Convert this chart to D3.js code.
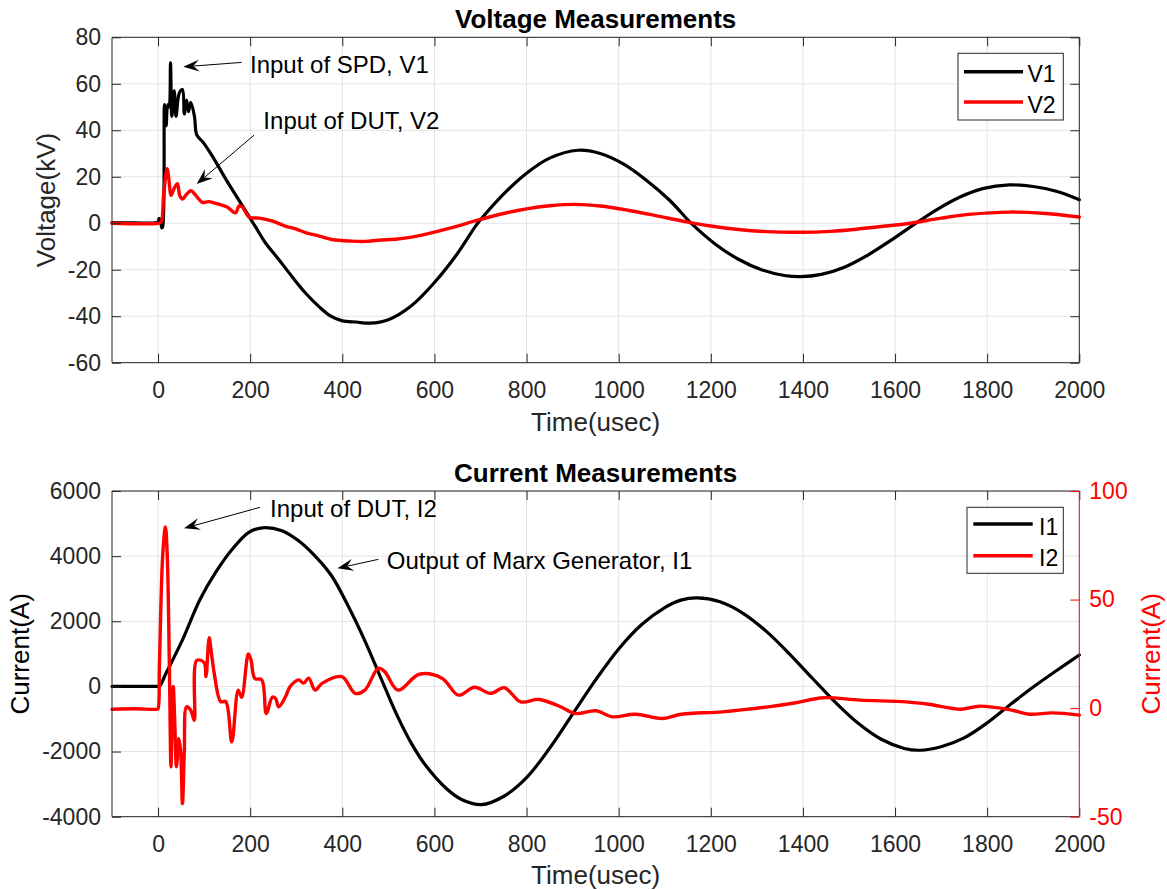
<!DOCTYPE html>
<html>
<head>
<meta charset="utf-8">
<script src="https://cdn.jsdelivr.net/npm/d3@7"></script>
<style>
  html, body { margin: 0; padding: 0; background: #fff; }
  svg { display: block; font-family: "Liberation Sans", Arial, Helvetica, sans-serif; }
</style>
</head>
<body>
<svg id="chart" width="1167" height="890"></svg>
<script>
// ---------------- DATA ----------------
const timeTicks = [0, 200, 400, 600, 800, 1000, 1200, 1400, 1600, 1800, 2000];
const voltageTicks = [-60, -40, -20, 0, 20, 40, 60, 80];
const currentTicks = [-4000, -2000, 0, 2000, 4000, 6000];
const currentRightTicks = [-50, 0, 50, 100];

const v1Time = [-100, -50, 0, 2, 5, 8, 10, 14, 17.5, 21, 24, 27, 30, 35, 39, 46, 53, 57, 62, 66, 71, 79, 84, 97, 111, 125, 147, 169, 190, 212, 233, 262, 291, 320, 350, 375, 400, 430, 460, 500, 550, 600, 650, 690, 700, 750, 800, 850, 912, 960, 1010, 1060, 1110, 1160, 1210, 1260, 1310, 1360, 1395, 1440, 1490, 1540, 1590, 1640, 1690, 1740, 1790, 1848, 1900, 1950, 2000];
const v1Values = [0.3, 0.2, 0.5, 2, 1.5, -2, -1.5, 51, 42, 51, 50, 69, 46, 57, 46, 56, 57.5, 47, 53, 48, 52, 46, 38, 35, 31, 26.5, 19, 12, 5.3, -1.7, -8.4, -15.6, -23, -30, -36, -40, -42, -42.5, -43, -41.5, -35.5, -25.5, -13, -1, 1.5, 12.5, 21.5, 28, 31.4, 30, 25.5, 18.5, 10, -0.5, -9, -15.5, -20, -22.5, -23, -22, -18.9, -13.8, -7.5, -0.7, 5.8, 11.2, 14.9, 16.5, 15.8, 13.8, 10.1];

const v2Time = [-100, 0, 6.6, 12, 19.6, 24, 28, 35, 42, 47, 53, 62, 71.5, 80, 96, 110, 130, 150, 168, 176, 183, 198, 220, 247, 276, 300, 320, 350, 377, 420, 450, 478, 520, 550, 600, 650, 688, 750, 800, 850, 905, 960, 1020, 1080, 1150, 1200, 1260, 1320, 1394, 1460, 1520, 1580, 1633, 1700, 1760, 1850, 1920, 2000];
const v2Values = [0, 0, 0.5, 12, 23.5, 18, 12, 15, 17, 12, 10.4, 12.5, 14, 12.5, 9, 9.3, 8.3, 7, 4.5, 7.5, 7, 2.6, 2.2, 1, -1.2, -2.5, -4, -5.5, -7, -7.7, -7.8, -7.3, -6.8, -6, -3.8, -1.2, 1, 4.2, 6.2, 7.5, 8.1, 7.4, 5.6, 3.3, 0.5, -1.2, -2.7, -3.6, -3.9, -3.5, -2.5, -1.2, 0, 2.2, 3.8, 4.8, 4.3, 2.7];

const i1Time = [-100, 0, 3, 17.5, 53, 91, 125, 161, 197, 226, 269, 305, 341, 377, 413, 449, 487, 521, 550, 577, 627, 660, 702, 750, 800, 850, 900, 950, 1000, 1050, 1100, 1135, 1170, 1220, 1270, 1320, 1370, 1420, 1470, 1520, 1570, 1620, 1654, 1700, 1750, 1800, 1850, 1900, 1950, 2000];
const i1Values = [0, 0, 0, 410, 1430, 2670, 3500, 4210, 4730, 4870, 4780, 4470, 4000, 3390, 2460, 1400, 150, -950, -1750, -2350, -3150, -3480, -3630, -3380, -2800, -1900, -850, 200, 1150, 1900, 2420, 2650, 2720, 2598, 2245, 1697, 1009, 258, -481, -1132, -1623, -1904, -1960, -1850, -1580, -1120, -560, -20, 480, 965];

const i2Time = [-100, -50, -2, 0, 3, 10, 16, 20, 24.6, 28, 30, 33, 36, 40, 45, 49, 53, 57, 62, 71, 78.6, 84, 100, 104, 111, 116, 122, 136, 147, 160, 174, 181.5, 196, 202, 210, 225, 235, 248, 255, 262, 276, 287, 305, 316, 327, 341, 356, 399, 428, 449, 478, 492, 521, 567, 617, 652, 687, 722, 752, 787, 827, 870, 906, 951, 986, 1036, 1096, 1136, 1225, 1324, 1385, 1444, 1524, 1624, 1673, 1743, 1783, 1853, 1892, 1942, 2000];
const i2Values = [-0.5, -0.3, -0.5, -0.3, 20, 70, 83.5, 70, 19, -27, -10, 10, -5, -27, -14, -20, -44, -20, 0.6, -1, -5.6, 22, 21, 14.5, 32.4, 25, 16, 3, 3, -15.6, 8.3, 5, 25, 22, 13.7, 13, -2.5, 5, 4.5, 0.6, 5, 10, 13, 11.5, 13.8, 8.3, 11.4, 14.5, 6.8, 8.3, 18.3, 16.8, 8.3, 15.6, 13.7, 6, 9.6, 6.8, 9.4, 2.9, 4, 1, -2.5, -1.2, -4, -2.8, -4.8, -2.8, -1.7, 0.6, 2.5, 4.8, 3.7, 2.9, 1.8, -0.5, 0.9, -0.9, -2.8, -2.2, -3.2];

// annotations in data units: [textT, textV, tailT, tailV, tipT, tipV, label]
const voltageNotes = [
  [199.6, 64.5, 181.6, 69.2, 54.8, 67.3, "Input of SPD, V1"],
  [228.6, 40.4, 208.4, 37.9, 83.9, 16.9, "Input of DUT, V2"]
];
const currentNotes = [
  [243.1, 5210, 221.4, 5499, 56.4, 4854, "Input of DUT, I2"],
  [496.5, 3605, 478.3, 3902, 389.3, 3626, "Output of Marx Generator, I1"]
];

// ---------------- LAYOUT ----------------
const svg = d3.select("#chart");
const L = 112, R = 1079.3;
const top1 = 37.3, bot1 = 362.7;
const top2 = 491, bot2 = 816.7;
const axisColor = "#262626";
const gridColor = "#e3e3e3";
const tickFont = 23;
const fmt = d => String(d);

const x = d3.scaleLinear().domain([-100, 2000]).range([L, R]);
const yV = d3.scaleLinear().domain([-60, 80]).range([bot1, top1]);
const yI = d3.scaleLinear().domain([-4000, 6000]).range([bot2, top2]);
const yI2 = d3.scaleLinear().domain([-50, 100]).range([bot2, top2]);

function zip(t, v) { return t.map((d, i) => [d, v[i]]); }

function grid(g, yScale, yTicks, top, bot) {
  g.selectAll(".gx").data(timeTicks).join("line")
    .attr("x1", d => x(d)).attr("x2", d => x(d))
    .attr("y1", top).attr("y2", bot)
    .attr("stroke", gridColor).attr("stroke-width", 1);
  g.selectAll(".gy").data(yTicks).join("line")
    .attr("x1", L).attr("x2", R)
    .attr("y1", d => yScale(d)).attr("y2", d => yScale(d))
    .attr("stroke", gridColor).attr("stroke-width", 1);
}

function styleAxis(g, color, size) {
  g.select(".domain").remove();
  g.selectAll(".tick line").attr("stroke", color).attr("stroke-width", 1);
  g.selectAll(".tick text").attr("fill", color).attr("font-size", size)
    .attr("font-family", '"Liberation Sans", Arial, Helvetica, sans-serif');
}

function frame(yScale, yTicks, top, bot, hasRight) {
  const gb = svg.append("g").attr("transform", `translate(0,${bot})`)
    .call(d3.axisBottom(x).tickValues(timeTicks).tickFormat(fmt).tickSizeInner(-9).tickSizeOuter(0).tickPadding(18.5));
  styleAxis(gb, axisColor, tickFont);
  const gt = svg.append("g").attr("transform", `translate(0,${top})`)
    .call(d3.axisTop(x).tickValues(timeTicks).tickSizeInner(-9).tickSizeOuter(0).tickFormat(""));
  styleAxis(gt, axisColor, tickFont);
  const gl = svg.append("g").attr("transform", `translate(${L},0)`)
    .call(d3.axisLeft(yScale).tickValues(yTicks).tickFormat(fmt).tickSizeInner(-9).tickSizeOuter(0).tickPadding(11));
  styleAxis(gl, axisColor, tickFont);
  if (!hasRight) {
    const gr = svg.append("g").attr("transform", `translate(${R},0)`)
      .call(d3.axisRight(yScale).tickValues(yTicks).tickSizeInner(-9).tickSizeOuter(0).tickFormat(""));
    styleAxis(gr, axisColor, tickFont);
  }
  svg.append("line").attr("x1", L).attr("x2", R).attr("y1", top).attr("y2", top).attr("stroke", axisColor);
  svg.append("line").attr("x1", L).attr("x2", R).attr("y1", bot).attr("y2", bot).attr("stroke", axisColor);
  svg.append("line").attr("x1", L).attr("x2", L).attr("y1", top).attr("y2", bot).attr("stroke", axisColor);
  if (!hasRight) {
    svg.append("line").attr("x1", R).attr("x2", R).attr("y1", top).attr("y2", bot).attr("stroke", axisColor);
  }
}

function drawLine(data, yScale, color, width) {
  svg.append("path").datum(data)
    .attr("fill", "none").attr("stroke", color).attr("stroke-width", width)
    .attr("stroke-linejoin", "round").attr("stroke-linecap", "round")
    .attr("d", d3.line().x(d => x(d[0])).y(d => yScale(d[1])).curve(d3.curveCatmullRom.alpha(0.5)));
}

function arrow(x1, y1, x2, y2) {
  const ang = Math.atan2(y2 - y1, x2 - x1);
  const len = 16, hw = 6, notch = 10;
  const bx = x2 - len * Math.cos(ang), by = y2 - len * Math.sin(ang);
  const nx = x2 - notch * Math.cos(ang), ny = y2 - notch * Math.sin(ang);
  const px = -Math.sin(ang), py = Math.cos(ang);
  svg.append("line").attr("x1", x1).attr("y1", y1).attr("x2", nx).attr("y2", ny)
    .attr("stroke", "#000").attr("stroke-width", 1);
  svg.append("path")
    .attr("d", `M${x2},${y2} L${bx + px * hw},${by + py * hw} L${nx},${ny} L${bx - px * hw},${by - py * hw} Z`)
    .attr("fill", "#000");
}

function notes(list, yScale) {
  list.forEach(n => {
    svg.append("text").attr("x", x(n[0])).attr("y", yScale(n[1]))
      .attr("font-size", 24).attr("fill", "#000").text(n[6]);
    arrow(x(n[2]), yScale(n[3]), x(n[4]), yScale(n[5]));
  });
}

function legend(x0, y0, w, h, items, lineX1, lineX2, textX, rows) {
  svg.append("rect").attr("x", x0).attr("y", y0).attr("width", w).attr("height", h)
    .attr("fill", "#fff").attr("stroke", axisColor).attr("stroke-width", 1);
  items.forEach((it, i) => {
    svg.append("line").attr("x1", lineX1).attr("x2", lineX2).attr("y1", rows[i]).attr("y2", rows[i])
      .attr("stroke", it[1]).attr("stroke-width", 3.5);
    svg.append("text").attr("x", textX).attr("y", rows[i] + 10.5).attr("font-size", 23)
      .attr("fill", "#000").text(it[0]);
  });
}

// ---------------- TOP PANEL ----------------
grid(svg.append("g"), yV, voltageTicks, top1, bot1);
drawLine(zip(v1Time, v1Values), yV, "#000", 3.2);
drawLine(zip(v2Time, v2Values), yV, "#ff0000", 3.4);
frame(yV, voltageTicks, top1, bot1, false);
notes(voltageNotes, yV);
legend(958, 53.3, 105.3, 66.7, [["V1", "#000"], ["V2", "#ff0000"]], 964, 1023, 1027.5, [71.7, 102]);

svg.append("text").attr("x", (L + R) / 2).attr("y", 28.3).attr("text-anchor", "middle")
  .attr("font-size", 26).attr("font-weight", "bold").attr("fill", "#000").text("Voltage Measurements");
svg.append("text").attr("x", (L + R) / 2).attr("y", 430.6).attr("text-anchor", "middle")
  .attr("font-size", 26).attr("fill", axisColor).text("Time(usec)");
svg.append("text").attr("transform", `translate(55.3,${(top1 + bot1) / 2}) rotate(-90)`)
  .attr("text-anchor", "middle").attr("font-size", 26).attr("fill", axisColor).text("Voltage(kV)");

// ---------------- BOTTOM PANEL ----------------
grid(svg.append("g"), yI, currentTicks, top2, bot2);
drawLine(zip(i1Time, i1Values), yI, "#000", 3.2);
drawLine(zip(i2Time, i2Values), yI2, "#ff0000", 3.4);
frame(yI, currentTicks, top2, bot2, true);
const grR = svg.append("g").attr("transform", `translate(${R},0)`)
  .call(d3.axisRight(yI2).tickValues(currentRightTicks).tickFormat(fmt).tickSizeInner(-9).tickSizeOuter(0).tickPadding(10));
styleAxis(grR, "#ff0000", tickFont);
svg.append("line").attr("x1", R).attr("x2", R).attr("y1", top2).attr("y2", bot2).attr("stroke", "#ff0000");
notes(currentNotes, yI);
legend(967, 507.3, 96.3, 66, [["I1", "#000"], ["I2", "#ff0000"]], 973.3, 1032.7, 1039, [524, 555.7]);

svg.append("text").attr("x", (L + R) / 2).attr("y", 482).attr("text-anchor", "middle")
  .attr("font-size", 26).attr("font-weight", "bold").attr("fill", "#000").text("Current Measurements");
svg.append("text").attr("x", (L + R) / 2).attr("y", 884).attr("text-anchor", "middle")
  .attr("font-size", 26).attr("fill", axisColor).text("Time(usec)");
svg.append("text").attr("transform", `translate(28.6,${(top2 + bot2) / 2}) rotate(-90)`)
  .attr("text-anchor", "middle").attr("font-size", 26).attr("fill", "#000").text("Current(A)");
svg.append("text").attr("transform", `translate(1160.3,${(top2 + bot2) / 2}) rotate(-90)`)
  .attr("text-anchor", "middle").attr("font-size", 26).attr("fill", "#ff0000").text("Current(A)");
</script>
</body>
</html>
